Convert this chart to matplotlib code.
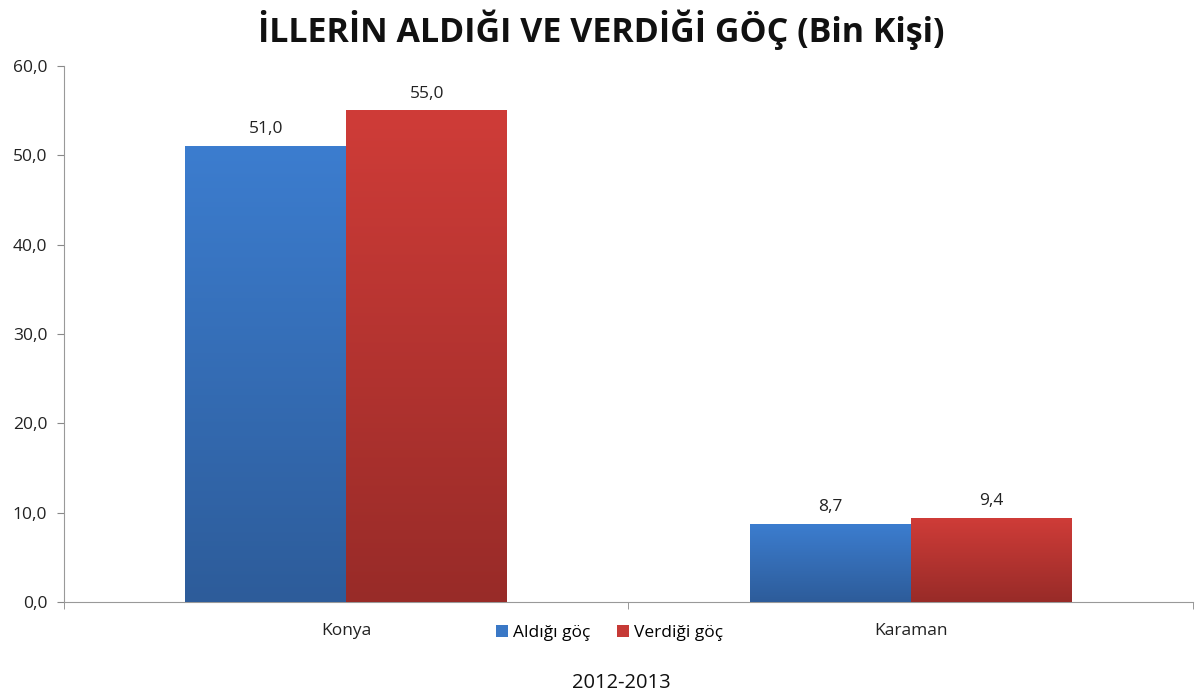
import numpy as np
import matplotlib
matplotlib.use("Agg")
import matplotlib.pyplot as plt
from matplotlib.colors import LinearSegmentedColormap

plt.rcParams['font.family'] = ['Open Sans', 'DejaVu Sans']

provinces = ["Konya", "Karaman"]
aldigi = [51.0, 8.7]
verdigi = [55.0, 9.4]
series_names = ["Aldığı göç", "Verdiği göç"]
yticks = [0, 10, 20, 30, 40, 50, 60]

fig = plt.figure(figsize=(11.95, 6.95), dpi=100)
ax = fig.add_axes([0.0536, 0.1338, 0.9445, 0.7712])

x = np.arange(len(provinces))
w = 0.285
b1 = ax.bar(x - w / 2, aldigi, w, color="#3a78c6", label=series_names[0], zorder=2)
b2 = ax.bar(x + w / 2, verdigi, w, color="#c63a36", label=series_names[1], zorder=2)


def gradient(bars, top, bottom):
    cmap = LinearSegmentedColormap.from_list("g", [bottom, top])
    grad = np.linspace(0, 1, 256).reshape(-1, 1)
    for r in bars:
        x0, y0 = r.get_x(), r.get_y()
        ax.imshow(grad, cmap=cmap, aspect="auto", origin="lower",
                  extent=(x0, x0 + r.get_width(), y0, y0 + r.get_height()),
                  zorder=3)


gradient(b1, "#3c7dcf", "#2d5c9a")
gradient(b2, "#cf3c38", "#982b28")

for bars, vals in ((b1, aldigi), (b2, verdigi)):
    for r, v in zip(bars, vals):
        ax.text(r.get_x() + r.get_width() / 2, v + 1.0, f"{v:.1f}".replace(".", ","),
                ha="center", va="bottom", fontsize=12.5, color="#222222")

ax.set_xlim(-0.5, 1.5)
ax.set_ylim(0, 60)
ax.set_yticks(yticks)
ax.set_yticklabels([f"{t:.1f}".replace(".", ",") for t in yticks])
ax.set_xticks(x)
ax.set_xticklabels(provinces)
ax.set_xticks([-0.5, 0.5, 1.5], minor=True)
ax.tick_params(axis="x", which="major", length=0, pad=15, labelsize=12.5, colors="#222222")
ax.tick_params(axis="x", which="minor", length=5, color="#888888")
ax.tick_params(axis="y", length=5, color="#888888", labelsize=12.5, labelcolor="#222222", pad=7)

for s in ("top", "right"):
    ax.spines[s].set_visible(False)
for s in ("left", "bottom"):
    ax.spines[s].set_color("#999999")

fig.suptitle("İLLERİN ALDIĞI VE VERDİĞİ GÖÇ (Bin Kişi)", x=0.503, y=0.957, va="center",
             fontsize=24.5, fontweight="bold", color="#111111")

fig.legend(handles=[b1, b2], loc="center", bbox_to_anchor=(0.51, 0.089), ncol=2,
           frameon=False, fontsize=12.5, handlelength=0.7, handleheight=0.7,
           handletextpad=0.3, columnspacing=1.5)
fig.text(0.52, 0.017, "2012-2013", ha="center", va="center", fontsize=14.5, color="#111111")

fig.savefig("out.png", dpi=100)
